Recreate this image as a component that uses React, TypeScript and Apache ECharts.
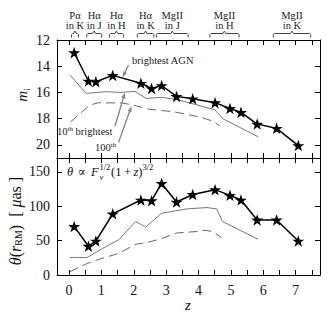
import React, { useEffect, useRef } from 'react';
import * as echarts from 'echarts';

const SERIF = '"Liberation Serif", "DejaVu Serif", serif';

// Brightest AGN (stars)
const zStar = [0.16, 0.6, 0.83, 1.35, 2.22, 2.55, 2.86, 3.32, 3.82, 4.51, 4.97, 5.31, 5.81, 6.41, 7.08];
const magBright = [12.97, 15.13, 15.18, 14.7, 15.3, 15.7, 15.47, 16.3, 16.48, 16.78, 17.22, 17.52, 18.41, 18.74, 20.05];
const thetaBright = [70.6, 41.8, 49.4, 88.9, 109, 108, 133, 106, 117, 124, 115.7, 109, 80, 80, 49.4];

// 10th brightest (thin solid)
const z10Mag = [0.03, 0.53, 1.16, 1.57, 2.04, 2.38, 2.88, 3.43, 4.5, 4.76, 5.84];
const mag10 = [14.67, 16.07, 15.94, 16.0, 15.92, 16.45, 16.37, 16.6, 17.32, 18.02, 19.38];
const z10Theta = [0.03, 0.56, 1.03, 1.54, 2.06, 2.37, 2.86, 3.63, 4.26, 4.56, 4.74, 5.84];
const theta10 = [25.5, 25.5, 38.4, 51.4, 77.8, 69.6, 89.8, 96, 98, 96, 77.8, 51.9];

// 100th brightest (dashed)
const z100Mag = [0.05, 0.65, 0.9, 1.63, 1.98, 2.5, 3.22, 4.04, 4.45, 4.66];
const mag100 = [18.24, 16.96, 16.79, 16.8, 16.96, 17.29, 17.47, 17.87, 18.2, 18.56];
const z100Theta = [0.03, 0.56, 1.01, 1.52, 2.07, 2.4, 2.86, 3.32, 4.04, 4.2, 4.45, 4.71];
const theta100 = [4.8, 16.8, 24, 31.2, 44.7, 47, 52.9, 61, 63.5, 65, 63, 54];

// Axis ticks / labels
const zTicks = [0, 0.5, 1, 1.5, 2, 2.5, 3, 3.5, 4, 4.5, 5, 5.5, 6, 6.5, 7, 7.5];
const zLabels = [0, 1, 2, 3, 4, 5, 6, 7];
const magTicks = [12, 14, 16, 18, 20];
const thetaTicks = [0, 50, 100, 150];

// Band brackets on top
const bandLine = ['P\u03b1', 'H\u03b1', 'H\u03b1', 'H\u03b1', 'MgII', 'MgII', 'MgII'];
const bandFilter = ['in K', 'in J', 'in H', 'in K', 'in J', 'in H', 'in K'];
const bandZmin = [0.08, 0.55, 1.25, 2.11, 2.7, 4.35, 6.31];
const bandZmax = [0.29, 1.01, 1.68, 2.62, 3.68, 5.25, 7.46];

const STAR = 'path://M0,-10 L2.35,-3.09 L9.51,-3.09 L3.8,1.18 L5.88,8.09 L0,3.82 L-5.88,8.09 L-3.8,1.18 L-9.51,-3.09 L-2.35,-3.09 Z';

const pairs = (xs: number[], ys: number[]) => xs.map((x, i) => [x, ys[i]]);

function makeX(grid: number, pos: 'top' | 'bottom', labels: boolean): any {
  return {
    type: 'value', gridIndex: grid, position: pos, min: -0.37, max: 7.75,
    axisLine: { show: true, onZero: false, lineStyle: { color: '#000', width: 1 } },
    axisTick: { show: true, inside: true, length: 5, customValues: zTicks, lineStyle: { color: '#000' } },
    axisLabel: labels
      ? { show: true, customValues: zLabels, fontFamily: SERIF, fontSize: 14, color: '#111', margin: 8 }
      : { show: false },
    splitLine: { show: false },
  };
}

function makeY(grid: number, pos: 'left' | 'right', labels: boolean, min: number, max: number, ticks: number[], inverse: boolean): any {
  return {
    type: 'value', gridIndex: grid, position: pos, min, max, inverse,
    axisLine: { show: true, onZero: false, lineStyle: { color: '#000', width: 1 } },
    axisTick: { show: true, inside: true, length: 5, customValues: ticks, lineStyle: { color: '#000' } },
    axisLabel: labels
      ? { show: true, customValues: ticks, fontFamily: SERIF, fontSize: 14, color: '#111', margin: 7 }
      : { show: false },
    splitLine: { show: false },
  };
}

function arrow(x1: number, y1: number, x2: number, y2: number): any[] {
  const dx = x2 - x1, dy = y2 - y1;
  const L = Math.sqrt(dx * dx + dy * dy);
  const ux = dx / L, uy = dy / L;
  const nx = -uy, ny = ux;
  const hl = 6, hw = 2.2;
  const bx = x2 - ux * hl, by = y2 - uy * hl;
  return [
    { type: 'line', shape: { x1, y1, x2: bx, y2: by }, style: { stroke: '#888', lineWidth: 1.4 }, z: 20 },
    { type: 'polygon', shape: { points: [[x2, y2], [bx + nx * hw, by + ny * hw], [bx - nx * hw, by - ny * hw]] }, style: { fill: '#888' }, z: 20 },
  ];
}

export default function App() {
  const ref = useRef<HTMLDivElement>(null);
  useEffect(() => {
    if (!ref.current) return;
    const chart = echarts.init(ref.current, null, { renderer: 'svg' });
    const option: any = {
      animation: false,
      backgroundColor: '#fff',
      grid: [
        { left: 57, right: 9, top: 40, height: 118 },
        { left: 57, right: 9, top: 158, height: 117 },
      ],
      xAxis: [
        makeX(0, 'bottom', false),
        makeX(0, 'top', false),
        makeX(1, 'bottom', true),
        makeX(1, 'top', false),
      ],
      yAxis: [
        makeY(0, 'left', true, 12, 21, magTicks, true),
        makeY(0, 'right', false, 12, 21, magTicks, true),
        makeY(1, 'left', true, 0, 170, thetaTicks, false),
        makeY(1, 'right', false, 0, 170, thetaTicks, false),
      ],
      series: [
        { type: 'line', xAxisIndex: 0, yAxisIndex: 0, data: pairs(z100Mag, mag100), showSymbol: false, symbol: 'none',
          lineStyle: { color: '#666', width: 1, type: [9, 5] }, z: 2 },
        { type: 'line', xAxisIndex: 0, yAxisIndex: 0, data: pairs(z10Mag, mag10), showSymbol: false, symbol: 'none',
          lineStyle: { color: '#777', width: 1 }, z: 3 },
        { type: 'line', xAxisIndex: 0, yAxisIndex: 0, data: pairs(zStar, magBright), symbol: STAR, symbolSize: [12, 11.5],
          itemStyle: { color: '#000' }, lineStyle: { color: '#000', width: 1.5 }, z: 5 },
        { type: 'line', xAxisIndex: 2, yAxisIndex: 2, data: pairs(z100Theta, theta100), showSymbol: false, symbol: 'none',
          lineStyle: { color: '#666', width: 1, type: [9, 5] }, z: 2 },
        { type: 'line', xAxisIndex: 2, yAxisIndex: 2, data: pairs(z10Theta, theta10), showSymbol: false, symbol: 'none',
          lineStyle: { color: '#777', width: 1 }, z: 3 },
        { type: 'line', xAxisIndex: 2, yAxisIndex: 2, data: pairs(zStar, thetaBright), symbol: STAR, symbolSize: [12, 11.5],
          itemStyle: { color: '#000' }, lineStyle: { color: '#000', width: 1.5 }, z: 5 },
      ],
    };
    chart.setOption(option);

    const px = (z: number) => chart.convertToPixel({ xAxisIndex: 0 }, z) as number;
    const g: any[] = [];
    // Brackets and band labels
    bandLine.forEach((name, i) => {
      const x1 = px(bandZmin[i]), x2 = px(bandZmax[i]);
      const xm = (x1 + x2) / 2;
      g.push({
        type: 'polyline',
        shape: { points: [[x1, 37.5], [x1, 34.5], [x1 + 1, 33.5], [xm - 1.5, 33.5], [xm, 31], [xm + 1.5, 33.5], [x2 - 1, 33.5], [x2, 34.5], [x2, 37.5]] },
        style: { stroke: '#444', lineWidth: 1, fill: null },
      });
      g.push({ type: 'text', x: xm, y: 15, style: { text: name, fontFamily: SERIF, fontSize: 10.5, fill: '#222', align: 'center', verticalAlign: 'middle' } });
      g.push({ type: 'text', x: xm, y: 25, style: { text: bandFilter[i], fontFamily: SERIF, fontSize: 10.5, fill: '#222', align: 'center', verticalAlign: 'middle' } });
    });

    // Y-axis titles
    g.push({
      type: 'text', x: 22, y: 95, rotation: Math.PI / 2,
      style: {
        text: '{it|m}{sub|i}', align: 'center', verticalAlign: 'middle', fill: '#111',
        rich: {
          it: { fontFamily: SERIF, fontStyle: 'italic', fontSize: 15, lineHeight: 18, verticalAlign: 'middle' },
          sub: { fontFamily: SERIF, fontSize: 9, lineHeight: 18, verticalAlign: 'bottom', padding: [6, 0, 0, 0] },
        },
      },
    });
    g.push({
      type: 'text', x: 15, y: 221, rotation: Math.PI / 2,
      style: {
        text: '{it|\u03b8}{n|(}{it|r}{sub|RM}{n|)  [ }{it|\u03bc}{n|as ]}', align: 'center', verticalAlign: 'middle', fill: '#111',
        rich: {
          it: { fontFamily: SERIF, fontStyle: 'italic', fontSize: 16, lineHeight: 20 },
          n: { fontFamily: SERIF, fontSize: 16, lineHeight: 20 },
          sub: { fontFamily: SERIF, fontSize: 10, lineHeight: 20, padding: [7, 0, 0, 0] },
        },
      },
    });
    // X-axis title
    g.push({ type: 'text', x: 188, y: 305, style: { text: 'z', fontFamily: SERIF, fontStyle: 'italic', fontSize: 15, fill: '#111', align: 'center', verticalAlign: 'middle' } });

    // Formula
    const fs = { fontFamily: SERIF, fill: '#111', verticalAlign: 'middle' as const };
    g.push({ type: 'text', x: 67, y: 172, style: { ...fs, text: '\u03b8', fontStyle: 'italic', fontSize: 12.5 } });
    g.push({ type: 'text', x: 77.5, y: 172, style: { ...fs, text: '\u221d', fontSize: 12.5 } });
    g.push({ type: 'text', x: 91, y: 172, style: { ...fs, text: 'F', fontStyle: 'italic', fontSize: 12.5 } });
    g.push({ type: 'text', x: 99.5, y: 167, style: { ...fs, text: '1/2', fontSize: 8.5 } });
    g.push({ type: 'text', x: 99.5, y: 176.5, style: { ...fs, text: '\u03bd', fontStyle: 'italic', fontSize: 8.5 } });
    g.push({
      type: 'text', x: 111, y: 172,
      style: {
        ...fs, text: '{n|(1\u2009+\u2009}{it|z}{n|)}',
        rich: { n: { fontFamily: SERIF, fontSize: 12.5 }, it: { fontFamily: SERIF, fontSize: 12.5, fontStyle: 'italic' } },
      },
    });
    g.push({ type: 'text', x: 142.5, y: 167, style: { ...fs, text: '3/2', fontSize: 8.5 } });

    // Annotations
    g.push({ type: 'text', x: 132, y: 60, style: { text: 'brightest AGN', fontFamily: SERIF, fontSize: 10.5, fill: '#222', verticalAlign: 'middle' } });
    g.push(...arrow(128.5, 65, 122.5, 77.5));
    g.push({
      type: 'text', x: 57, y: 131.5,
      style: {
        text: '{n|10}{sup|th}{n| brightest}', verticalAlign: 'middle', fill: '#222',
        rich: {
          n: { fontFamily: SERIF, fontSize: 10.5, lineHeight: 14 },
          sup: { fontFamily: SERIF, fontSize: 7, lineHeight: 14, padding: [0, 0, 5, 0] },
        },
      },
    });
    g.push(...arrow(115, 126, 125, 92.5));
    g.push({
      type: 'text', x: 95, y: 147,
      style: {
        text: '{n|100}{sup|th}', verticalAlign: 'middle', fill: '#222',
        rich: {
          n: { fontFamily: SERIF, fontSize: 10.5, lineHeight: 14 },
          sup: { fontFamily: SERIF, fontSize: 7, lineHeight: 14, padding: [0, 0, 5, 0] },
        },
      },
    });
    g.push(...arrow(118.5, 142.5, 131.5, 106));

    chart.setOption({ graphic: g });
    return () => chart.dispose();
  }, []);
  return <div ref={ref} style={{ width: 329, height: 313, position: 'absolute', left: 0, top: 0 }} />;
}
